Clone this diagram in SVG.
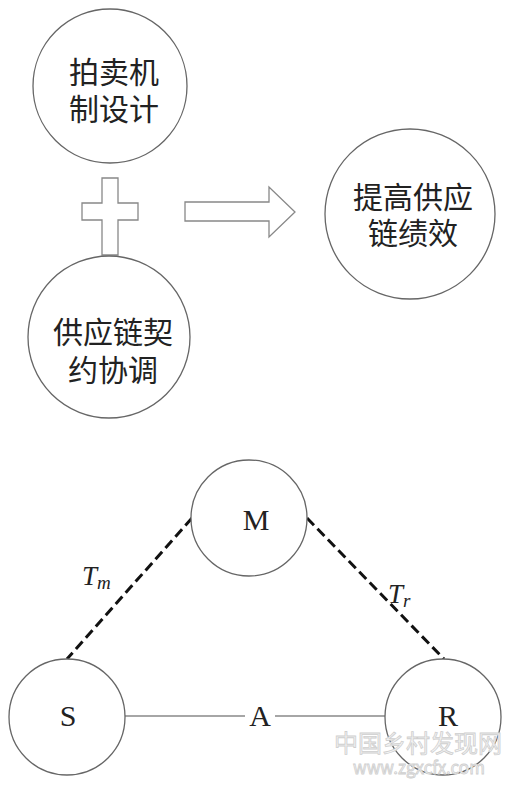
<svg xmlns="http://www.w3.org/2000/svg" width="512" height="787" viewBox="0 0 512 787">
<style>
.node{fill:#fff;stroke:#666;stroke-width:1.3}
.cn{font-family:"Noto Sans CJK SC","Noto Sans",sans-serif;font-size:30px;fill:#222;text-anchor:middle}
.lt{font-family:"Liberation Serif",serif;font-size:30px;fill:#222;text-anchor:middle}
.it{font-family:"Liberation Serif",serif;font-style:italic;fill:#222}
.dash{stroke:#111;stroke-width:3;stroke-dasharray:10 5;fill:none}
.solid{stroke:#888;stroke-width:1.3;fill:none}
.shape{fill:#fff;stroke:#888;stroke-width:1.3}
.wm{font-family:"Noto Sans CJK SC",sans-serif;fill:#f4f4f4;stroke:#cfcfcf;stroke-width:0.8;text-anchor:middle}
</style>
<rect width="512" height="787" fill="#fff"/>
<g id="connectors">
<line class="dash" x1="192" y1="518" x2="67" y2="659"/>
<line class="dash" x1="307" y1="518" x2="444" y2="659"/>
<line class="solid" x1="125" y1="716" x2="385" y2="716"/>
<rect x="245" y="702" width="30" height="28" fill="#fff"/>
<text class="lt" x="260" y="726">A</text>
<text class="it" x="82" y="585" font-size="27">T<tspan font-size="19" dy="4">m</tspan></text>
<text class="it" x="388" y="603" font-size="27">T<tspan font-size="19" dy="4">r</tspan></text>
</g>
<g id="auction">
<circle class="node" cx="110" cy="86" r="77"/>
<text class="cn" x="114" y="83">拍卖机</text>
<text class="cn" x="114" y="120">制设计</text>
</g>
<g id="plus">
<path class="shape" d="M102,178 H118 V203 H138 V220 H118 V255 H102 V220 H82 V203 H102 Z"/>
</g>
<g id="arrow">
<path class="shape" d="M185,202 H269 V187 L295,212 L269,237 V221 H185 Z"/>
</g>
<g id="performance">
<circle class="node" cx="410" cy="214" r="85"/>
<text class="cn" x="413" y="208">提高供应</text>
<text class="cn" x="413" y="244">链绩效</text>
</g>
<g id="contract">
<circle class="node" cx="109" cy="337" r="81"/>
<text class="cn" x="113" y="343">供应链契</text>
<text class="cn" x="113" y="381">约协调</text>
</g>
<g id="M">
<circle class="node" cx="249" cy="518" r="58"/>
<text class="lt" x="256" y="530">M</text>
</g>
<g id="S">
<circle class="node" cx="67" cy="717" r="58"/>
<text class="lt" x="68" y="726">S</text>
</g>
<g id="R">
<circle class="node" cx="443" cy="717" r="58"/>
<text class="lt" x="448" y="726">R</text>
</g>
<g id="watermark">
<text class="wm" x="418" y="752" font-size="24">中国乡村发现网</text>
<text class="wm" x="419" y="774" font-size="17" font-family="Liberation Serif">www.zgxcfx.com</text>
</g>
</svg>
